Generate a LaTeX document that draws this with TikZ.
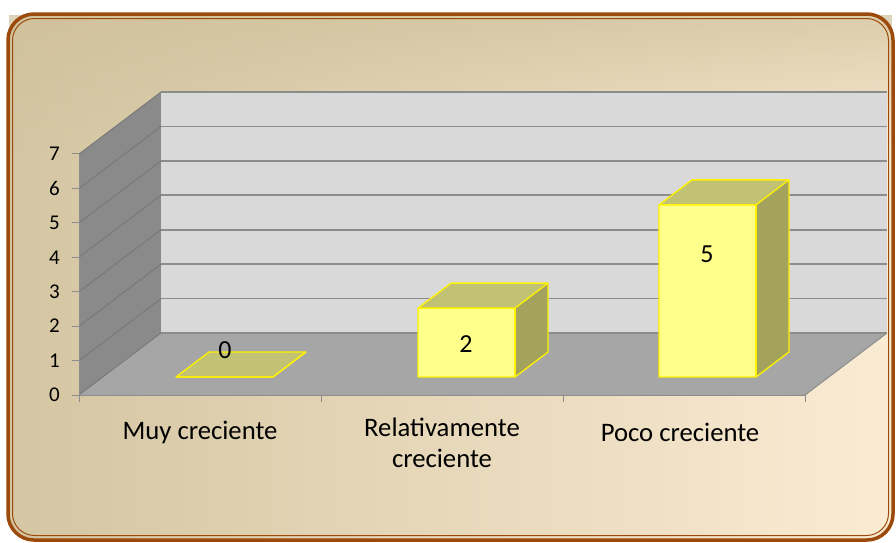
\documentclass[tikz,border=0pt]{standalone}
\usepackage{fontspec}
\setmainfont{Carlito}
\usetikzlibrary{positioning,fadings}
\definecolor{framebrown}{HTML}{9C4A0B}
\definecolor{tanleft}{HTML}{D4C6A2}
\definecolor{creamright}{HTML}{FAEBD3}
\definecolor{tantop}{HTML}{CFC09A}
\definecolor{backgray}{HTML}{D9D9D9}
\definecolor{sidegray}{HTML}{8A8A8A}
\definecolor{floorgray}{HTML}{A6A6A6}
\definecolor{gridgray}{HTML}{8C8C8C}
\definecolor{barfront}{HTML}{FFFF8C}
\definecolor{bartop}{HTML}{C2C274}
\definecolor{barside}{HTML}{A3A35E}

\begin{document}
\begin{tikzpicture}[x=1pt, y=-1pt,
    gridline/.style={draw=gridgray, line width=1.6pt},
    sidegrid/.style={draw=sidegray!85!black, line width=0.8pt},
    tickmark/.style={draw=gridgray, line width=1pt},
    barface/.style={draw=yellow, line width=1.3pt, line join=round},
    axisnum/.style={font=\fontsize{21}{24}\selectfont, inner sep=0pt, anchor=east},
    catlabel/.style={font=\fontsize{26.7}{31}\selectfont, inner sep=0pt, align=center},
    vallabel/.style={font=\fontsize{26}{30}\selectfont, inner sep=0pt}
]
    \useasboundingbox (0,0) rectangle (896,542);
    % frame and background
    \shade[left color=tanleft, right color=creamright, rounded corners=26pt] (8,14) rectangle (893,540);
    \fill[tantop, opacity=0.7, path fading=south] (9,15) rectangle (892,150);
    \draw[framebrown, line width=3.5pt, rounded corners=26pt] (8,14) rectangle (893,540);
    \draw[framebrown, line width=1pt, rounded corners=22pt] (12.5,18.5) rectangle (888.5,535.5);

    % walls and floor
    \fill[sidegray] (79,395) -- (161,333) -- (161,92) -- (79,154) -- cycle;
    \fill[backgray] (161,92) rectangle (887,333);
    \fill[floorgray] (79,395) -- (161,333) -- (887,333) -- (805,395) -- cycle;
    \foreach \k in {0,...,7} {
        \draw[gridline] (161,{333-34.43*\k}) -- (887,{333-34.43*\k});
        \draw[sidegrid] (79,{395-34.43*\k}) -- (161,{333-34.43*\k});
    }
    \draw[gridgray, line width=1pt] (805,395) -- (887,333);
    \draw[gridgray, line width=1pt] (79,395) -- (805,395);
    \draw[gridgray, line width=1pt] (79,154) -- (79,395);

    % axis ticks and numbers
    \foreach \k in {0,...,7} {
        \draw[tickmark] (72,{395-34.43*\k}) -- (79,{395-34.43*\k});
        \node[axisnum] (num\k) at (60,{395-34.43*\k}) {\k};
    }
    \foreach \x in {79,321,563,805}
        \draw[tickmark] (\x,395) -- (\x,402);

    % bars
    \foreach \xf/\h in {176/0, 418/2, 659/5} {
        \fill[barfront] (\xf,377) rectangle (\xf+97,{377-34.43*\h});
        \fill[barside] (\xf+97,377) -- (\xf+130,352) -- (\xf+130,{352-34.43*\h}) -- (\xf+97,{377-34.43*\h}) -- cycle;
        \fill[bartop] (\xf,{377-34.43*\h}) -- (\xf+33,{352-34.43*\h}) -- (\xf+130,{352-34.43*\h}) -- (\xf+97,{377-34.43*\h}) -- cycle;
        \draw[barface] (\xf,377) -- (\xf+97,377) -- (\xf+130,352) -- (\xf+130,{352-34.43*\h})
            -- (\xf+33,{352-34.43*\h}) -- (\xf,{377-34.43*\h}) -- cycle;
        \draw[barface] (\xf,{377-34.43*\h}) -- (\xf+97,{377-34.43*\h}) -- (\xf+130,{352-34.43*\h});
        \draw[barface] (\xf+97,377) -- (\xf+97,{377-34.43*\h});
    }

    % values
    \node[vallabel] (val0) at (225,350) {0};
    \node[vallabel] (val2) at (466,344) {2};
    \node[vallabel] (val5) at (707,254) {5};

    % categories
    \node[catlabel] (muy) at (200,432) {Muy creciente};
    \node[catlabel, anchor=north] (relativ) at (442,418) {Relativamente\\creciente};
    \node[catlabel] (poco) at (680,432) {Poco creciente};
\end{tikzpicture}
\end{document}
